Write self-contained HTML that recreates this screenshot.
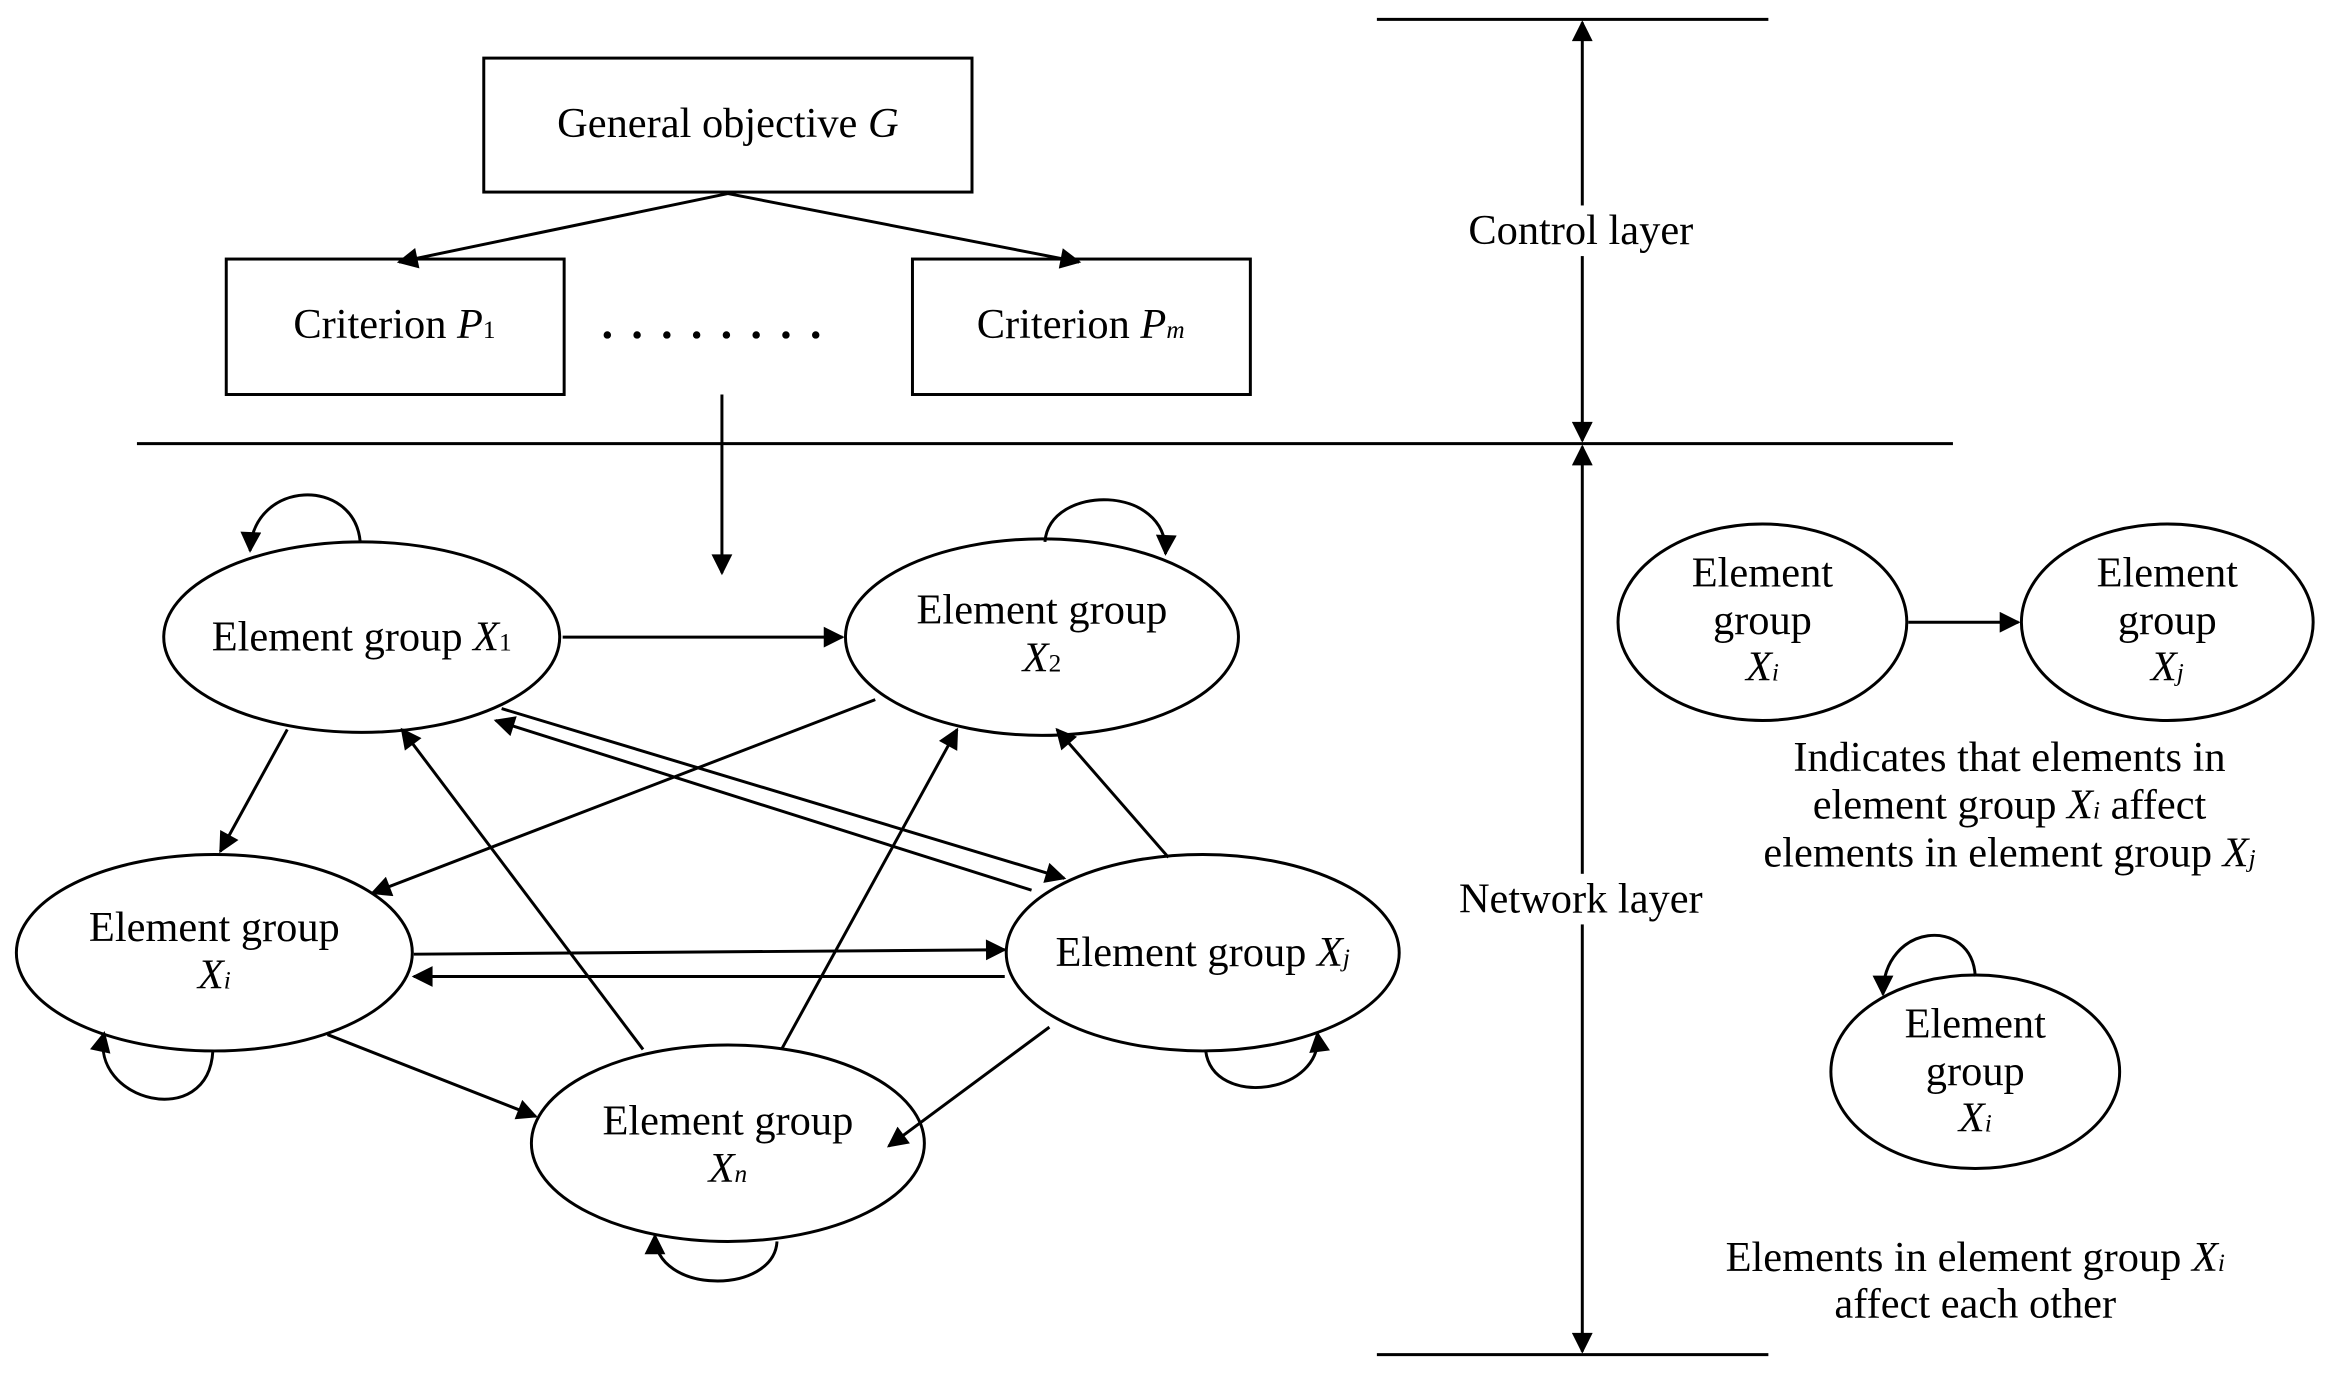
<!DOCTYPE html>
<html><head><meta charset="utf-8"><style>
html,body{margin:0;padding:0;background:#fff;}
svg{display:block;}
text{font-family:"Liberation Serif",serif;font-size:28.5px;fill:#000;}
</style></head><body>
<svg width="2334" height="1374" viewBox="0 0 1568 923" xmlns="http://www.w3.org/2000/svg">
<defs>
<marker id="b" viewBox="0 0 10 10" refX="9" refY="5" markerWidth="18" markerHeight="14" orient="auto-start-reverse" markerUnits="userSpaceOnUse">
<path d="M0,0 L10,5 L0,10 z" fill="#000"/></marker>
</defs>
<g stroke="#000" stroke-width="2" fill="none">
<rect x="325" y="39" width="328" height="90"/>
<rect x="152" y="174" width="227" height="91"/>
<rect x="613" y="174" width="227" height="91"/>
<line x1="489" y1="130" x2="268" y2="176" marker-end="url(#b)"/>
<line x1="489" y1="130" x2="725" y2="176" marker-end="url(#b)"/>
<line x1="92" y1="298" x2="1312" y2="298"/>
<line x1="485" y1="265" x2="485" y2="385" marker-end="url(#b)"/>
<line x1="925" y1="13" x2="1188" y2="13"/>
<line x1="925" y1="910" x2="1188" y2="910"/>
<line x1="1063" y1="15" x2="1063" y2="296" marker-start="url(#b)" marker-end="url(#b)"/>
<line x1="1063" y1="300" x2="1063" y2="908" marker-start="url(#b)" marker-end="url(#b)"/>
<ellipse cx="243" cy="428" rx="133" ry="64"/>
<ellipse cx="700" cy="428" rx="132" ry="66"/>
<ellipse cx="144" cy="640" rx="133" ry="66"/>
<ellipse cx="808" cy="640" rx="132" ry="66"/>
<ellipse cx="489" cy="768" rx="132" ry="66"/>
<ellipse cx="1184" cy="418" rx="97" ry="66"/>
<ellipse cx="1456" cy="418" rx="98" ry="66"/>
<ellipse cx="1327" cy="720" rx="97" ry="65"/>
<line x1="1282" y1="418" x2="1356" y2="418" marker-end="url(#b)"/>
<line x1="378" y1="428" x2="566" y2="428" marker-end="url(#b)"/>
<line x1="193" y1="490" x2="148" y2="572" marker-end="url(#b)"/>
<line x1="588" y1="470" x2="250" y2="600" marker-end="url(#b)"/>
<line x1="337" y1="476" x2="715" y2="590" marker-end="url(#b)"/>
<line x1="693" y1="598" x2="333" y2="484" marker-end="url(#b)"/>
<line x1="785" y1="576" x2="710" y2="490" marker-end="url(#b)"/>
<line x1="432" y1="705" x2="270" y2="490" marker-end="url(#b)"/>
<line x1="525" y1="705" x2="643" y2="490" marker-end="url(#b)"/>
<line x1="278" y1="641" x2="675" y2="638" marker-end="url(#b)"/>
<line x1="675" y1="656" x2="278" y2="656" marker-end="url(#b)"/>
<line x1="220" y1="695" x2="360" y2="750" marker-end="url(#b)"/>
<line x1="705" y1="690" x2="597" y2="770" marker-end="url(#b)"/>
<path d="M242,364 C238,320 170,322 168,370" marker-end="url(#b)"/>
<path d="M702,364 C705,325 785,325 783,372" marker-end="url(#b)"/>
<path d="M143,706 C140,760 60,740 70,694" marker-end="url(#b)"/>
<path d="M810,706 C815,745 890,735 885,694" marker-end="url(#b)"/>
<path d="M522,834 C520,870 440,870 440,830" marker-end="url(#b)"/>
<path d="M1327,656 C1325,615 1265,620 1265,668" marker-end="url(#b)"/>
</g>
<rect x="982" y="138" width="162" height="34" fill="#fff"/>
<rect x="974" y="587" width="178" height="34" fill="#fff"/>
<g fill="#000">
<circle cx="408" cy="225" r="2.5"/><circle cx="428" cy="225" r="2.5"/><circle cx="448" cy="225" r="2.5"/><circle cx="468" cy="225" r="2.5"/><circle cx="488" cy="225" r="2.5"/><circle cx="508" cy="225" r="2.5"/><circle cx="528" cy="225" r="2.5"/><circle cx="548" cy="225" r="2.5"/>
</g>
<g text-anchor="middle">
<text x="489" y="92">General objective <tspan font-style="italic">G</tspan></text>
<text x="265" y="227">Criterion <tspan font-style="italic">P</tspan><tspan font-size="17">1</tspan></text>
<text x="726" y="227">Criterion <tspan font-style="italic">P</tspan><tspan font-size="17" font-style="italic">m</tspan></text>
<text x="1062" y="164">Control layer</text>
<text x="1062" y="613">Network layer</text>
<text x="243" y="437">Element group <tspan font-style="italic">X</tspan><tspan font-size="17">1</tspan></text>
<text x="700" y="419">Element group</text>
<text x="700" y="451" font-style="italic">X<tspan font-size="17" font-style="normal">2</tspan></text>
<text x="144" y="632">Element group</text>
<text x="144" y="664" font-style="italic">X<tspan font-size="17">i</tspan></text>
<text x="808" y="649">Element group <tspan font-style="italic">X</tspan><tspan font-size="17" font-style="italic">j</tspan></text>
<text x="489" y="762">Element group</text>
<text x="489" y="794" font-style="italic">X<tspan font-size="17">n</tspan></text>
<text x="1184" y="394">Element</text>
<text x="1184" y="426">group</text>
<text x="1184" y="457" font-style="italic">X<tspan font-size="17">i</tspan></text>
<text x="1456" y="394">Element</text>
<text x="1456" y="426">group</text>
<text x="1456" y="457" font-style="italic">X<tspan font-size="17">j</tspan></text>
<text x="1350" y="518">Indicates that elements in</text>
<text x="1350" y="550">element group <tspan font-style="italic">X</tspan><tspan font-size="17" font-style="italic">i</tspan> affect</text>
<text x="1350" y="582">elements in element group <tspan font-style="italic">X</tspan><tspan font-size="17" font-style="italic">j</tspan></text>
<text x="1327" y="697">Element</text>
<text x="1327" y="729">group</text>
<text x="1327" y="760" font-style="italic">X<tspan font-size="17">i</tspan></text>
<text x="1327" y="854">Elements in element group <tspan font-style="italic">X</tspan><tspan font-size="17" font-style="italic">i</tspan></text>
<text x="1327" y="885">affect each other</text>
</g>
</svg>
</body></html>
